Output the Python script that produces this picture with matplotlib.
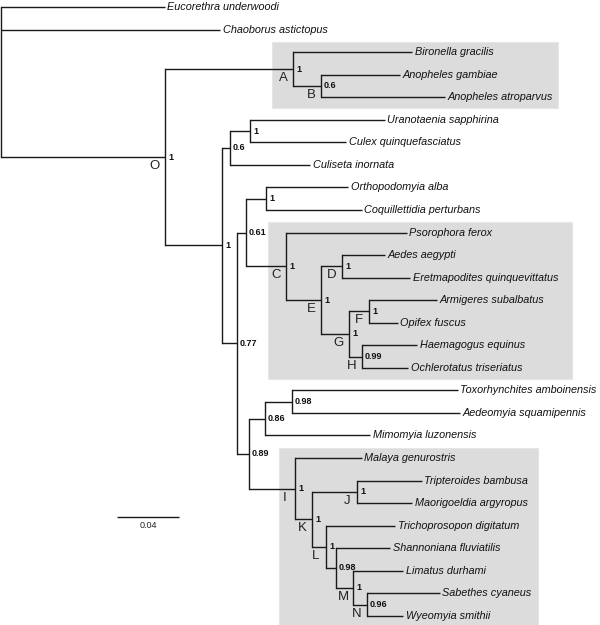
import matplotlib
matplotlib.use("Agg")
import matplotlib.pyplot as plt
import matplotlib.patches as mpatches

plt.rcParams['font.family'] = ['Liberation Sans', 'DejaVu Sans']

# ── tree data: tips in drawing order, depth = distance from root (subs/site) ──
tip_names = [
    'Eucorethra underwoodi', 'Chaoborus astictopus', 'Bironella gracilis',
    'Anopheles gambiae', 'Anopheles atroparvus', 'Uranotaenia sapphirina',
    'Culex quinquefasciatus', 'Culiseta inornata', 'Orthopodomyia alba',
    'Coquillettidia perturbans', 'Psorophora ferox', 'Aedes aegypti',
    'Eretmapodites quinquevittatus', 'Armigeres subalbatus', 'Opifex fuscus',
    'Haemagogus equinus', 'Ochlerotatus triseriatus', 'Toxorhynchites amboinensis',
    'Aedeomyia squamipennis', 'Mimomyia luzonensis', 'Malaya genurostris',
    'Tripteroides bambusa', 'Maorigoeldia argyropus', 'Trichoprosopon digitatum',
    'Shannoniana fluviatilis', 'Limatus durhami', 'Sabethes cyaneus',
    'Wyeomyia smithii',
]
tip_parent = [
    'root', 'root', 'A', 'B', 'B', 'uc', 'uc', 'n06', 'oc', 'oc', 'C', 'D', 'D',
    'F', 'F', 'H', 'H', 'n098', 'n098', 'n086', 'I', 'J', 'J', 'L', 'l2', 'M',
    'N', 'N',
]
tip_depth = [
    0.1058, 0.1413, 0.2652, 0.2574, 0.2865, 0.2477, 0.2226, 0.1994, 0.2239,
    0.2329, 0.2619, 0.2477, 0.2639, 0.2813, 0.2561, 0.2684, 0.2626, 0.2948,
    0.2961, 0.2381, 0.2329, 0.2716, 0.2652, 0.2542, 0.2510, 0.2594, 0.2832,
    0.2594,
]

node_names   = ['root', 'O', 'A', 'B', 'n1', 'n06', 'uc', 'n077', 'n061', 'oc',
                'C', 'E', 'D', 'G', 'F', 'H', 'n089', 'n086', 'n098', 'I', 'K',
                'J', 'L', 'l2', 'M', 'N']
node_parent  = [None, 'root', 'O', 'A', 'O', 'n1', 'n06', 'n1', 'n077', 'n061',
                'n061', 'C', 'E', 'E', 'G', 'G', 'n077', 'n089', 'n086', 'n089',
                'I', 'K', 'K', 'L', 'l2', 'M']
node_depth   = [0.0, 0.1058, 0.1884, 0.2065, 0.1426, 0.1477, 0.1606, 0.1523,
                0.1581, 0.1710, 0.1839, 0.2065, 0.2200, 0.2245, 0.2374, 0.2329,
                0.1600, 0.1703, 0.1877, 0.1897, 0.2006, 0.2297, 0.2097, 0.2161,
                0.2271, 0.2361]
node_support = [None, 1, 1, 0.6, 1, 0.6, 1, 0.77, 0.61, 1, 1, 1, 1, 1, 1, 0.99,
                0.89, 0.86, 0.98, 1, 1, 1, 1, 0.98, 1, 0.96]
node_letter  = ['', 'O', 'A', 'B', '', '', '', '', '', '', 'C', 'E', 'D', 'G',
                'F', 'H', '', '', '', 'I', 'K', 'J', 'L', '', 'M', 'N']

scale_len = 0.04
shaded_clades = ['A', 'C', 'I']

# ── layout helpers (pixel geometry of the 600x625 figure) ──
PX_PER_UNIT = 1550.0      # 62 px scale bar = 0.04
ROW = 22.55               # px between tips
TOP = 7.0                 # px of first tip


def dx(px):
    return px / PX_PER_UNIT


def dy(px):
    return px / ROW


depth = dict(zip(tip_names, tip_depth))
depth.update(zip(node_names, node_depth))
parent = dict(zip(tip_names, tip_parent))
parent.update((n, p) for n, p in zip(node_names, node_parent) if p)
children = {n: [] for n in node_names}
for name in tip_names + node_names:
    if parent.get(name):
        children[parent[name]].append(name)

ypos = {name: i for i, name in enumerate(tip_names)}


def set_y(n):
    if n in ypos:
        return ypos[n]
    ys = [set_y(c) for c in children[n]]
    ypos[n] = (min(ys) + max(ys)) / 2
    return ypos[n]


set_y('root')


def leaves(n):
    if n not in children:
        return [n]
    out = []
    for c in children[n]:
        out += leaves(c)
    return out


fig = plt.figure(figsize=(6, 6.25), dpi=100)
ax = fig.add_axes([0, 0, 1, 1])
ax.set_xlim(-dx(1), dx(599))
ax.set_ylim((625 - TOP) / ROW, -TOP / ROW)
ax.axis('off')

# shaded clade boxes
box_right = {'A': 558, 'C': 572, 'I': 538}
box_left = {'A': 21, 'C': 18, 'I': 16}
for clade in shaded_clades:
    lv = leaves(clade)
    y0 = ypos[lv[0]] - dy(10.5)
    y1 = min(ypos[lv[-1]] + dy(11), (625 - TOP) / ROW)
    x0 = depth[clade] - dx(box_left[clade])
    x1 = dx(box_right[clade] - 1)
    ax.add_patch(mpatches.Rectangle((x0, y0), x1 - x0, y1 - y0,
                                    facecolor='#dcdcdc', edgecolor='#e6e6e6',
                                    linewidth=0.8, zorder=0))

LC = '#1a1a1a'
LW = 1.0

# horizontal branches
for name, p in parent.items():
    ax.plot([depth[p], depth[name]], [ypos[name], ypos[name]],
            color=LC, lw=LW, solid_capstyle='butt', zorder=2)

# vertical connectors, supports and letters
for n, s, let in zip(node_names, node_support, node_letter):
    ys = [ypos[c] for c in children[n]]
    ax.plot([depth[n], depth[n]], [min(ys), max(ys)],
            color=LC, lw=LW, solid_capstyle='projecting', zorder=2)
    if s is not None:
        ax.text(depth[n] + dx(3), ypos[n], f'{s:g}', fontsize=6.5,
                fontweight='bold', ha='left', va='center', color='#111111',
                zorder=3)
    if let:
        ax.text(depth[n] - dx(10), ypos[n] + dy(9), let, fontsize=9.5,
                ha='center', va='center', color='#222222', zorder=3)

# tip labels
for name in tip_names:
    ax.text(depth[name] + dx(2.5), ypos[name], name, fontsize=7.8, style='italic',
            ha='left', va='center', color='#111111', zorder=3)

# scale bar
sb_x = dx(116)
sb_y = dy(517 - TOP)
ax.plot([sb_x, sb_x + scale_len], [sb_y, sb_y], color=LC, lw=LW,
        solid_capstyle='butt')
ax.text(sb_x + scale_len / 2, sb_y + dy(9), f'{scale_len:g}', fontsize=6.5,
        ha='center', va='center', color='#222222')

fig.savefig('out.png', dpi=100)
